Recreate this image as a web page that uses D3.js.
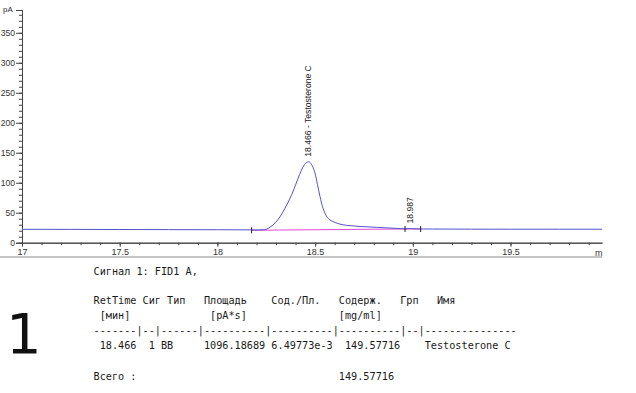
<!DOCTYPE html>
<html>
    <head>
        <meta charset="utf-8">
        <script src="https://d3js.org/d3.v7.min.js"></script>
        <style>
          body { margin: 0; background: #ffffff; }
          #chart { width: 636px; height: 393px; position: relative; }
          .axis text { font-family: "Liberation Sans", Arial, sans-serif; font-size: 9px; fill: #333333; }
          .yaxis text { font-size: 8.6px; }
          .axis line, .axis path { stroke: #444444; }
          .report { font-family: "DejaVu Sans Mono", monospace; font-size: 10.2px; fill: #1a1a1a; white-space: pre; }
      </style>
    </head>
    <body>
        <div id="chart"></div>
        <script>

            /* CHROMATOGRAM DATA */
            var times = [17.00, 17.25, 17.50, 17.75, 18.00, 18.10, 18.175, 18.21, 18.235, 18.25,
                         18.27, 18.295, 18.32, 18.345, 18.37, 18.39, 18.41, 18.43, 18.445, 18.458,
                         18.466, 18.475, 18.487, 18.50, 18.512, 18.525, 18.538, 18.551, 18.563, 18.576,
                         18.60, 18.627, 18.66, 18.70, 18.75, 18.82, 18.92, 18.96, 18.975, 18.987,
                         19.00, 19.04, 19.10, 19.30, 19.50, 19.75, 19.968];
            var signal = [22.3, 22.2, 22.0, 21.8, 21.6, 21.5, 21.4, 21.3, 21.6, 22.5,
                          26, 33, 43, 57, 73, 88, 105, 121, 130, 134,
                          135, 133.5, 127, 115.5, 97, 77, 60, 49, 42, 38,
                          34, 31, 29, 27.8, 26.7, 25.5, 23.8, 23.0, 23.2, 23.8,
                          23.3, 22.9, 22.8, 22.6, 22.5, 22.5, 22.5];

            /* integration baselines: start time, start value, end time, end value */
            var baseStart = [18.175, 18.96];
            var baseStartVal = [20.7, 22.9];
            var baseEnd = [18.96, 19.04];
            var baseEndVal = [22.9, 22.8];

            /* peak start / end markers */
            var markTimes = [18.175, 18.96, 19.04];
            var markVals = [20.7, 22.9, 22.8];

            /* peak labels */
            var peakTimes = [18.466, 18.987];
            var peakLabels = ["18.466 - Testosterone C", "18.987"];

            /* axis ticks */
            var yMajor = [0, 50, 100, 150, 200, 250, 300, 350];
            var yMinor = d3.range(0, 390, 10);
            var xMajor = [17, 17.5, 18, 18.5, 19, 19.5];
            var xMinor = d3.range(17, 19.95, 0.1);

            /* report text */
            var signalTitle = "Сигнал 1: FID1 A,";
            var reportLines = [
                "RetTime Сиг Тип   Площадь    Сод./Пл.   Содерж.   Грп   Имя",
                " [мин]             [pA*s]               [mg/ml]",
                "-------|--|------|----------|----------|----------|--|---------------",
                " 18.466  1 BB     1096.18689 6.49773e-3  149.57716    Testosterone C"
            ];
            var totalLine = "Всего :                                 149.57716";
            var sampleNumber = "1";

            /* SVG */
            var width = 636, height = 393;
            var svg = d3.select("#chart")
                .append("svg")
                .attr("width", width)
                .attr("height", height);

            var x = d3.scaleLinear().domain([17, 19.968]).range([22, 602]);
            var y = d3.scaleLinear().domain([0, 388]).range([242.7, 10]);

            /* y axis */
            svg.append("g")
                .attr("class", "axis")
                .attr("transform", "translate(22,0)")
                .call(d3.axisLeft(y).tickValues(yMinor).tickSize(3).tickSizeOuter(0).tickFormat(""));
            svg.append("g")
                .attr("class", "axis yaxis")
                .attr("transform", "translate(22,0)")
                .call(d3.axisLeft(y).tickValues(yMajor).tickSize(6).tickSizeOuter(6).tickPadding(1));

            svg.append("text")
                .attr("x", 3)
                .attr("y", 12)
                .style("font-family", "Liberation Sans, Arial, sans-serif")
                .style("font-size", "8px")
                .style("fill", "#333333")
                .text("pA");

            /* x axis */
            svg.append("g")
                .attr("class", "axis")
                .attr("transform", "translate(0,242.7)")
                .call(d3.axisBottom(x).tickValues(xMinor).tickSize(2.5).tickSizeOuter(0).tickFormat(""));
            svg.append("g")
                .attr("class", "axis")
                .attr("transform", "translate(0,242.7)")
                .call(d3.axisBottom(x).tickValues(xMajor).tickSize(4).tickSizeOuter(0).tickPadding(1.5)
                    .tickFormat(function(d) { return String(d); }));

            svg.append("text")
                .attr("x", 595)
                .attr("y", 255.5)
                .style("font-family", "Liberation Sans, Arial, sans-serif")
                .style("font-size", "9px")
                .style("fill", "#333333")
                .text("m");

            svg.append("line")
                .attr("x1", 0).attr("x2", 602)
                .attr("y1", 257).attr("y2", 257)
                .attr("stroke", "#8a8a8a")
                .attr("stroke-width", 1);

            /* baselines */
            svg.append("g")
                .selectAll("line")
                .data(baseStart)
                .enter()
                .append("line")
                    .attr("x1", function(d) { return x(d); })
                    .attr("y1", function(d, i) { return y(baseStartVal[i]); })
                    .attr("x2", function(d, i) { return x(baseEnd[i]); })
                    .attr("y2", function(d, i) { return y(baseEndVal[i]); })
                    .attr("stroke", "#e048d8")
                    .attr("stroke-width", 1);

            /* signal trace */
            var line = d3.line()
                .x(function(d, i) { return x(times[i]); })
                .y(function(d) { return y(d); })
                .curve(d3.curveMonotoneX);

            svg.append("path")
                .datum(signal)
                .attr("d", line)
                .attr("fill", "none")
                .attr("stroke", "#5252cc")
                .attr("stroke-width", 1);

            /* start / end markers */
            svg.append("g")
                .selectAll("line")
                .data(markTimes)
                .enter()
                .append("line")
                    .attr("x1", function(d) { return x(d); })
                    .attr("x2", function(d) { return x(d); })
                    .attr("y1", function(d, i) { return y(markVals[i]) - 3; })
                    .attr("y2", function(d, i) { return y(markVals[i]) + 3; })
                    .attr("stroke", "#222222")
                    .attr("stroke-width", 1);

            /* peak labels */
            svg.append("g")
                .selectAll("text")
                .data(peakTimes)
                .enter()
                .append("text")
                    .attr("transform", function(d) {
                        var v = signal[times.indexOf(d)];
                        return "translate(" + (x(d) + 3) + "," + (y(v) - 5) + ") rotate(-90)";
                    })
                    .style("font-family", "Liberation Sans, Arial, sans-serif")
                    .style("font-size", "8.6px")
                    .style("fill", "#222222")
                    .text(function(d, i) { return peakLabels[i]; });

            /* report block */
            svg.append("text")
                .attr("class", "report")
                .attr("x", 93.5)
                .attr("y", 274.5)
                .attr("xml:space", "preserve")
                .text(signalTitle);

            svg.append("g")
                .selectAll("text")
                .data(reportLines)
                .enter()
                .append("text")
                    .attr("class", "report")
                    .attr("x", 93.5)
                    .attr("y", function(d, i) { return 304 + i * 15.1; })
                    .attr("xml:space", "preserve")
                    .text(function(d) { return d; });

            svg.append("text")
                .attr("class", "report")
                .attr("x", 93.5)
                .attr("y", 379.5)
                .attr("xml:space", "preserve")
                .text(totalLine);

            svg.append("text")
                .attr("x", 6)
                .attr("y", 353)
                .style("font-family", "DejaVu Sans, sans-serif")
                .style("font-size", "56px")
                .style("fill", "#111111")
                .text(sampleNumber);

        </script>
    </body>
</html>
